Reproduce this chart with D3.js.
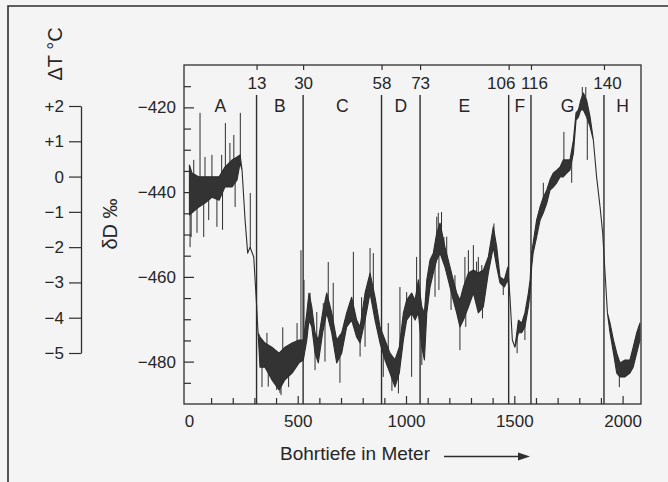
<!DOCTYPE html>
<html>
<head>
<meta charset="utf-8">
<script src="https://cdn.jsdelivr.net/npm/d3@7"></script>
<style>
html, body { margin: 0; padding: 0; background: #f4f4f4; }
svg { display: block; }
text { font-family: "Liberation Sans", Arial, Helvetica, sans-serif; fill: #262626; }
</style>
</head>
<body>
<svg width="668" height="482"></svg>
<script>
// depth in m, deltaD band (upper / lower edge of the dark trace)
var depth = [0, 12, 44, 72, 104, 137, 164, 197, 220, 234,
  243, 257, 269, 280, 297, 308, 317, 326, 349, 381,
  414, 441, 474, 506, 526, 542, 552, 565, 580, 595,
  615, 634, 657, 680, 703, 726, 749, 772, 788, 811,
  834, 857, 880, 903, 926, 949, 969, 988, 1003, 1026,
  1042, 1057, 1073, 1085, 1096, 1111, 1126, 1142, 1157, 1180,
  1195, 1218, 1234, 1249, 1265, 1288, 1311, 1334, 1357, 1380,
  1403, 1419, 1434, 1454, 1470, 1480, 1491, 1503, 1519, 1534,
  1549, 1565, 1573, 1580, 1587, 1603, 1619, 1634, 1650, 1665,
  1680, 1696, 1711, 1726, 1742, 1757, 1773, 1785, 1796, 1807,
  1819, 1834, 1850, 1865, 1880, 1896, 1908, 1919, 1930, 1942,
  1958, 1973, 1988, 2011, 2034, 2049, 2065, 2080]
var dDhigh = [-433.6, -435.5, -436.4, -436.4, -436.4, -436.4, -434.1, -432.4, -431.7, -431.2,
  -434.8, -446.6, -454.4, -453.0, -455.3, -464.8, -473.2, -474.2, -475.6, -476.6,
  -478.0, -476.6, -475.6, -474.9, -474.9, -468.5, -463.8, -467.1, -473.2, -474.9,
  -468.5, -463.8, -468.5, -474.9, -473.2, -468.5, -464.8, -470.2, -471.8, -463.8,
  -459.1, -464.8, -471.8, -474.9, -478.0, -479.6, -476.6, -468.5, -465.5, -463.8,
  -465.5, -460.7, -467.1, -468.5, -460.7, -456.0, -454.4, -449.6, -447.3, -453.0,
  -456.0, -460.7, -463.8, -465.5, -462.4, -459.1, -458.4, -459.1, -458.4, -455.3,
  -448.2, -453.0, -460.0, -460.7, -457.7, -464.8, -474.9, -476.6, -470.2, -470.9,
  -468.5, -463.8, -460.7, -454.4, -452.0, -446.6, -443.5, -441.2, -439.5, -437.1,
  -435.5, -434.8, -434.1, -432.4, -432.4, -432.4, -427.7, -421.3, -420.6, -418.3,
  -416.6, -418.3, -422.3, -427.7, -436.4, -443.5, -449.6, -459.1, -468.5, -470.9,
  -474.9, -478.0, -480.3, -479.6, -479.6, -476.6, -473.2, -470.9]
var dDlow = [-445.4, -444.9, -443.5, -442.6, -441.2, -441.9, -438.8, -438.8, -437.1, -433.1,
  -434.8, -446.6, -454.4, -453.0, -455.3, -464.8, -473.2, -481.3, -481.3, -484.3,
  -486.7, -484.3, -482.7, -480.3, -479.6, -474.9, -470.2, -471.8, -478.0, -480.3,
  -473.2, -468.5, -473.2, -480.3, -478.0, -471.8, -470.2, -474.2, -475.6, -470.2,
  -463.8, -470.2, -475.6, -479.6, -482.7, -486.0, -482.7, -474.9, -470.2, -468.5,
  -470.2, -468.5, -476.6, -479.6, -468.5, -462.4, -459.1, -456.0, -454.4, -457.7,
  -460.7, -465.5, -468.5, -471.8, -470.2, -467.1, -463.8, -468.5, -467.1, -459.1,
  -453.0, -457.7, -461.4, -462.4, -460.7, -464.8, -474.9, -476.6, -473.2, -473.2,
  -471.8, -467.1, -463.8, -457.7, -454.4, -450.6, -446.6, -444.9, -442.6, -439.5,
  -438.8, -437.8, -436.4, -436.4, -435.5, -434.8, -430.8, -423.0, -422.3, -420.6,
  -420.6, -422.3, -424.6, -427.7, -436.4, -443.5, -449.6, -459.1, -468.5, -473.2,
  -478.0, -482.7, -483.6, -483.6, -482.7, -481.3, -478.0, -474.9]

// single spikes sticking out of the trace
var spikeDepth = [3, 8, 20, 35, 49, 66, 72, 89, 104, 127, 149, 153, 166, 187, 205, 211, 235, 281,
  335, 358, 364, 403, 418, 423, 431, 458, 497, 515, 529, 557, 580, 588, 618, 626, 641, 664, 695, 718,
  757, 788, 795, 811, 834, 849, 895, 918, 935, 965, 972, 1003, 1026, 1049, 1073,
  1134, 1142, 1149, 1152, 1164, 1175, 1188, 1208, 1226, 1249, 1272, 1276, 1288, 1311, 1326, 1334,
  1350, 1353, 1406, 1449, 1513, 1549, 1634, 1729, 1765, 1814, 1830, 1837, 1985]
var spikeVal = [-453, -450.6, -432.4, -449.6, -421.3, -450.6, -431.7, -446.6, -431.2, -448.2, -431.2, -448.9, -423.7, -428.4, -426.5, -443.5, -421.3, -440.2,
  -486, -473.2, -485.9, -486.7, -487.4, -487.9, -471.9, -486, -470.9, -453.7, -460.7, -463.8, -482, -468.3, -466.2, -480, -456.5, -461.4, -485, -470.2,
  -454.1, -478.8, -464.8, -476.5, -453.2, -454.4, -483.6, -470.9, -486.9, -487.5, -462.4, -463.6, -483.6, -455.3, -480.8,
  -464.7, -445.8, -444.9, -463.1, -444.7, -450.6, -450.5, -467.8, -459.6, -477.3, -455.3, -471.8, -453.7, -452.5, -456.4, -455.3,
  -457.2, -469.8, -447.4, -464.3, -478, -474.9, -437.8, -425.8, -437.8, -415.2, -415.2, -432.4, -486]

// period boundaries: age in ka and depth in m
var ages = [13, 30, 58, 73, 106, 116, 140]
var boundDepth = [310, 525, 887, 1065, 1474, 1577, 1914]
var periods = ['A', 'B', 'C', 'D', 'E', 'F', 'G', 'H']

var dTticks = [2, 1, 0, -1, -2, -3, -4, -5]
var depthLabels = [0, 500, 1000, 1500, 2000]

var svg = d3.select('svg')
var ink = '#2e2e2e'

var x = d3.scaleLinear().domain([-25, 2085]).range([184, 641])
var y = d3.scaleLinear().domain([-490, -410]).range([404, 65])
var t = d3.scaleLinear().domain([-5, 2]).range([353, 106])

function minus(v) { return v < 0 ? '\u2212' + (-v) : '' + v }

// outer box of the figure
svg.append('path')
  .attr('d', 'M8,482V6H668')
  .attr('fill', 'none').attr('stroke', ink).attr('stroke-width', 1.6)

// plot frame
svg.append('rect')
  .attr('x', x.range()[0]).attr('y', y.range()[1])
  .attr('width', x.range()[1] - x.range()[0]).attr('height', y.range()[0] - y.range()[1])
  .attr('fill', 'none').attr('stroke', ink).attr('stroke-width', 1.3)

function styleAxis(g) {
  g.select('.domain').remove()
  g.selectAll('line').attr('stroke', ink).attr('stroke-width', 1.2)
  g.selectAll('text').attr('font-size', 17).attr('font-family', null).attr('fill', '#262626')
}

// left deltaD axis, ticks inward every 5
var yAxis = svg.append('g').attr('transform', 'translate(' + x.range()[0] + ',0)')
  .call(d3.axisLeft(y).tickValues(d3.range(-485, -410, 5)).tickSize(-7).tickPadding(8)
    .tickFormat(function(d) { return d % 20 === 0 ? minus(d) : '' }))
  .call(styleAxis)
yAxis.selectAll('.tick').filter(function(d) { return d % 20 === 0 }).select('line').attr('x2', 10)

// bottom depth axis
var xAxis = svg.append('g').attr('transform', 'translate(0,' + y.range()[0] + ')')
  .call(d3.axisBottom(x).tickValues(d3.range(100, 2001, 100)).tickSize(-6).tickPadding(11)
    .tickFormat(function(d) { return depthLabels.indexOf(d) >= 0 ? d : '' }))
  .call(styleAxis)
xAxis.selectAll('.tick').filter(function(d) { return d % 500 === 0 }).select('line').attr('y2', -8)
xAxis.append('text').attr('x', x(0)).attr('y', 11).attr('dy', '0.71em')
  .attr('text-anchor', 'middle').attr('font-size', 17).attr('fill', '#262626').text('0')

// top axis with the ages of the boundaries
var topAxis = svg.append('g').attr('transform', 'translate(0,' + y.range()[1] + ')')
  .call(d3.axisBottom(x).tickValues(boundDepth).tickSize(5).tickPadding(7)
    .tickFormat(function(d, i) { return ages[i] }))
  .call(styleAxis)
// 106 and 116 sit close together, pull them apart like the original
topAxis.selectAll('.tick text').attr('dx', function(d, i) {
  return ages[i] === 106 ? -8 : ages[i] === 116 ? 3 : ages[i] === 140 ? 3 : 0
})

// boundary lines
svg.append('g').selectAll('line').data(boundDepth).enter().append('line')
  .attr('x1', function(d) { return x(d) }).attr('x2', function(d) { return x(d) })
  .attr('y1', 95).attr('y2', y.range()[0])
  .attr('stroke', ink).attr('stroke-width', 1.4)

// period letters centred between boundaries
var edges = [x.domain()[0]].concat(boundDepth, [x.domain()[1]])
svg.append('g').selectAll('text').data(periods).enter().append('text')
  .attr('x', function(d, i) { return x((edges[i] + edges[i + 1]) / 2) })
  .attr('y', 112).attr('text-anchor', 'middle').attr('font-size', 17.5)
  .text(function(d) { return d })

// the deltaD trace
var pts = depth.map(function(d, i) { return { depth: d, hi: dDhigh[i], lo: dDlow[i] } })

var bis = d3.bisector(function(d) { return d.depth }).left
function midAt(dp) {
  var i = bis(pts, dp)
  if (i <= 0) return (pts[0].hi + pts[0].lo) / 2
  if (i >= pts.length) return (pts[pts.length - 1].hi + pts[pts.length - 1].lo) / 2
  var a = pts[i - 1], b = pts[i], f = (dp - a.depth) / (b.depth - a.depth)
  return ((a.hi + a.lo) / 2) * (1 - f) + ((b.hi + b.lo) / 2) * f
}

svg.append('g').selectAll('line').data(spikeDepth).enter().append('line')
  .attr('x1', function(d) { return x(d) }).attr('x2', function(d) { return x(d) })
  .attr('y1', function(d) { return y(midAt(d)) })
  .attr('y2', function(d, i) { return y(spikeVal[i]) })
  .attr('stroke', ink).attr('stroke-width', 1)

svg.append('path').datum(pts)
  .attr('d', d3.area()
    .x(function(d) { return x(d.depth) })
    .y0(function(d) { return y(d.lo) })
    .y1(function(d) { return y(d.hi) }))
  .attr('fill', '#333').attr('stroke', ink).attr('stroke-width', 1.1)
  .attr('stroke-linejoin', 'round')

// left temperature axis
var tAxis = svg.append('g').attr('transform', 'translate(81,0)')
  .call(d3.axisLeft(t).tickValues(dTticks).tickSize(12).tickSizeOuter(0).tickPadding(5)
    .tickFormat(function(d) { return d > 0 ? '+' + d : minus(d) }))
tAxis.select('.domain').attr('stroke', ink).attr('stroke-width', 1.3)
tAxis.selectAll('line').attr('stroke', ink).attr('stroke-width', 1.2)
tAxis.selectAll('text').attr('font-size', 17).attr('font-family', null).attr('fill', '#262626')

// axis titles
svg.append('text').attr('transform', 'translate(55,54) rotate(-90)')
  .attr('text-anchor', 'middle').attr('dominant-baseline', 'central')
  .attr('font-size', 20).text('\u0394T \u00b0C')
svg.append('text').attr('transform', 'translate(110,224) rotate(-90)')
  .attr('text-anchor', 'middle').attr('dominant-baseline', 'central')
  .attr('font-size', 20).text('\u03b4D \u2030')

svg.append('text').attr('x', 355).attr('y', 460).attr('text-anchor', 'middle')
  .attr('font-size', 19).text('Bohrtiefe in Meter')

// arrow after the depth title
svg.append('line').attr('x1', 444).attr('x2', 520).attr('y1', 456.5).attr('y2', 456.5)
  .attr('stroke', ink).attr('stroke-width', 1.5)
svg.append('path').attr('d', 'M518,452.5L530,456.5L518,460.5Z').attr('fill', ink)
</script>
</body>
</html>
